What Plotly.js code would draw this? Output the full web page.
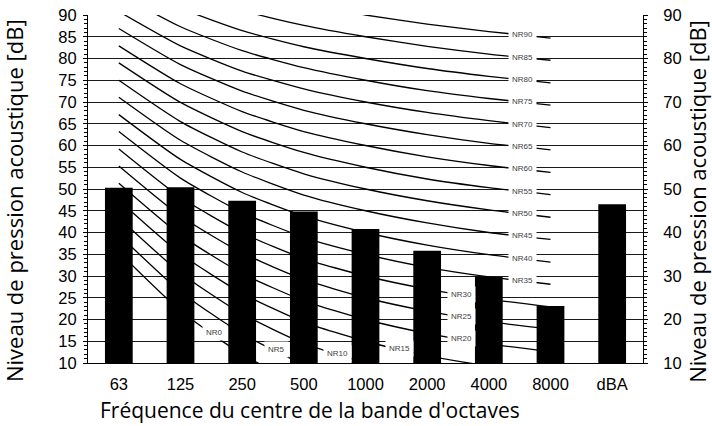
<!DOCTYPE html>
<html>
<head>
<meta charset="utf-8">
<script src="https://cdn.plot.ly/plotly-3.0.1.min.js"></script>
<style>html,body{margin:0;padding:0;background:#fff;}#chart{width:712px;height:426px;}</style>
</head>
<body>
<div id="chart"></div>
<script>
// Categories (octave band centre frequencies + overall dBA)
const categories = ['63', '125', '250', '500', '1000', '2000', '4000', '8000', 'dBA'];
// Measured levels (bars)
const barValues = [50.3, 50.4, 47.3, 44.8, 40.8, 35.8, 29.8, 23.1, 46.5];

// NR curve levels (one array per octave band, one entry per NR rating)
const nrRatings = [0, 5, 10, 15, 20, 25, 30, 35, 40, 45, 50, 55, 60, 65, 70, 75, 80, 85, 90];
const nr63   = [35.5, 39.5, 43.4, 47.4, 51.3, 55.3, 59.2, 63.2, 67.1, 71.1, 75.0, 79.0, 82.9, 86.9, 90.8, 94.8, 98.7, 102.7, 106.6];
const nr125  = [22.0, 26.4, 30.7, 35.1, 39.4, 43.8, 48.1, 52.5, 56.8, 61.2, 65.5, 69.9, 74.2, 78.6, 82.9, 87.3, 91.6, 96.0, 100.3];
const nr250  = [12.0, 16.7, 21.3, 26.0, 30.6, 35.3, 39.9, 44.6, 49.2, 53.9, 58.5, 63.2, 67.8, 72.5, 77.1, 81.8, 86.4, 91.1, 95.7];
const nr500  = [4.8, 9.7, 14.5, 19.4, 24.3, 29.2, 34.0, 38.9, 43.8, 48.6, 53.5, 58.4, 63.2, 68.1, 73.0, 77.9, 82.7, 87.6, 92.5];
const nr1000 = [0, 5, 10, 15, 20, 25, 30, 35, 40, 45, 50, 55, 60, 65, 70, 75, 80, 85, 90];
const nr2000 = [-3.5, 1.6, 6.7, 11.7, 16.8, 21.9, 27.0, 32.0, 37.1, 42.2, 47.3, 52.3, 57.4, 62.5, 67.6, 72.6, 77.7, 82.8, 87.9];
const nr4000 = [-6.1, -1.0, 4.2, 9.3, 14.4, 19.5, 24.7, 29.8, 34.9, 40.0, 45.2, 50.3, 55.4, 60.5, 65.7, 70.8, 75.9, 81.0, 86.2];
const nr8000 = [-8.0, -2.9, 2.3, 7.5, 12.6, 17.8, 22.9, 28.1, 33.2, 38.4, 43.5, 48.7, 53.8, 59.0, 64.1, 69.3, 74.4, 79.6, 84.7];

// Texts
const xTitle = 'Fréquence du centre de la bande d\'octaves';
const yTitle = 'Niveau de pression acoustique [dB]';

const nrBands = [nr63, nr125, nr250, nr500, nr1000, nr2000, nr4000, nr8000];
const nrCats = categories.slice(0, 8);

const traces = [];
const annotations = [];
const labelFont = {family: 'Liberation Sans, Arial, sans-serif', size: 8, color: '#404040'};

nrRatings.forEach((nr, i) => {
  const ys = nrBands.map(b => b[i]);
  traces.push({
    type: 'scatter', mode: 'lines', x: nrCats, y: ys,
    xaxis: 'x', yaxis: 'y',
    line: {color: '#000', width: 1.3, shape: 'spline', smoothing: 0.6},
    hoverinfo: 'skip', showlegend: false
  });
  // segment on which the label sits
  let seg;
  if (nr <= 15) seg = nr / 5 + 1;
  else if (nr <= 30) seg = 5;
  else seg = 6;
  annotations.push({
    xref: 'x', yref: 'y', x: seg + 0.5, y: (ys[seg] + ys[seg + 1]) / 2,
    text: 'NR' + nr, showarrow: false, font: labelFont,
    bgcolor: '#fff', borderpad: 3, xshift: 3
  });
});

traces.push({
  type: 'bar', x: categories, y: barValues, xaxis: 'x2', yaxis: 'y2',
  marker: {color: '#000', line: {width: 0}}, width: 0.45,
  hoverinfo: 'skip', showlegend: false
});

const tickFont = {family: 'Liberation Sans, Arial, sans-serif', size: 16.5, color: '#000'};
const xTitleFont = {family: 'Open Sans, sans-serif', size: 21, color: '#000'};
const yTitleFont = {family: 'Open Sans, sans-serif', size: 22, color: '#000'};

annotations.push({
  xref: 'paper', yref: 'paper', x: 0.4, y: -0.135, xanchor: 'center', yanchor: 'middle',
  text: xTitle, showarrow: false, font: xTitleFont
});
annotations.push({
  xref: 'paper', yref: 'paper', x: -0.1333, y: 0.4655, xanchor: 'center', yanchor: 'middle',
  text: yTitle, showarrow: false, font: yTitleFont, textangle: -90
});
annotations.push({
  xref: 'paper', yref: 'paper', x: 1.097, y: 0.4655, xanchor: 'center', yanchor: 'middle',
  text: yTitle, showarrow: false, font: yTitleFont, textangle: -90
});

const layout = {
  width: 712, height: 426,
  margin: {l: 88, r: 69, t: 15, b: 63},
  paper_bgcolor: '#fff', plot_bgcolor: '#fff',
  showlegend: false,
  xaxis: {
    type: 'category', categoryarray: categories, categoryorder: 'array',
    range: [-0.5, 8.5], showgrid: false, zeroline: false,
    showline: true, linecolor: '#000', linewidth: 1,
    ticks: '', tickfont: tickFont, ticklabelstandoff: 6
  },
  xaxis2: {
    type: 'category', categoryarray: categories, categoryorder: 'array',
    overlaying: 'x', range: [-0.5, 8.5], visible: false
  },
  yaxis: {
    range: [10, 90], dtick: 5, tick0: 10,
    showgrid: true, gridcolor: '#1a1a1a', gridwidth: 1,
    zeroline: false, showline: true, linecolor: '#000', linewidth: 1,
    ticks: 'outside', ticklen: 4, tickcolor: '#000',
    minor: {dtick: 1, ticks: 'outside', ticklen: 3, tickcolor: '#000', showgrid: false},
    tickfont: tickFont, ticklabelstandoff: 3
  },
  yaxis2: {
    overlaying: 'y', side: 'right', anchor: 'x',
    range: [10, 90], dtick: 10, tick0: 10,
    showgrid: false, zeroline: false, showline: true, linecolor: '#000', linewidth: 1,
    ticks: 'outside', ticklen: 4, tickcolor: '#000',
    minor: {dtick: 1, ticks: 'outside', ticklen: 3, tickcolor: '#000', showgrid: false},
    tickfont: tickFont, ticklabelstandoff: 12
  },
  yaxis3: {
    overlaying: 'y', side: 'right', anchor: 'x',
    range: [10, 90], dtick: 10, tick0: 10,
    showgrid: false, zeroline: false, showline: false, showticklabels: false,
    ticks: 'inside', ticklen: 3, tickcolor: '#000',
    minor: {dtick: 1, ticks: 'inside', ticklen: 3, tickcolor: '#000', showgrid: false}
  },
  annotations: annotations
};

Plotly.newPlot('chart', traces, layout, {staticPlot: true, displayModeBar: false});
</script>
</body>
</html>
